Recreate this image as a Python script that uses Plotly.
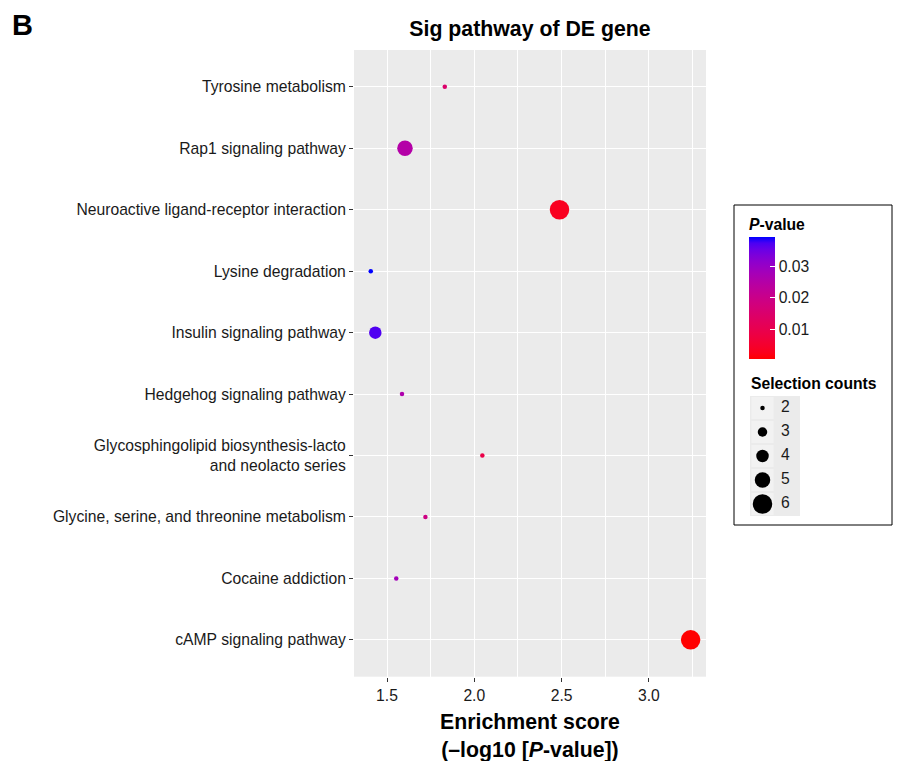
import numpy as np
import plotly.graph_objects as go

# ---------------- data ----------------
pathways = [
    "Tyrosine metabolism",
    "Rap1 signaling pathway",
    "Neuroactive ligand-receptor interaction",
    "Lysine degradation",
    "Insulin signaling pathway",
    "Hedgehog signaling pathway",
    "Glycosphingolipid biosynthesis-lacto<br>and neolacto series",
    "Glycine, serine, and threonine metabolism",
    "Cocaine addiction",
    "cAMP signaling pathway",
]
enrichment_score = [1.831, 1.603, 2.488, 1.407, 1.433, 1.586, 2.046, 1.720, 1.553, 3.239]
selection_counts = [2, 5, 6, 2, 4, 2, 2, 2, 2, 6]
legend_counts = [2, 3, 4, 5, 6]
colorbar_ticks = [0.01, 0.02, 0.03]
x_ticks = [1.5, 2.0, 2.5, 3.0]

# P-value derived from enrichment score (-log10 P)
p_values = [10 ** (-s) for s in enrichment_score]

# ---------------- style helpers ----------------
OFF = 0              # page body margin removed via post_script
W, H = 899, 761      # figure size
FONT = "Liberation Sans, Arial, sans-serif"
TXT = 15.7
size_px = {2: 4.5, 3: 9.5, 4: 12.5, 5: 15.5, 6: 19.5}


def px_x(p):
    return (p - OFF) / W


def px_y(p):
    return 1 - (p - OFF) / H


def srgb_to_lab(c):
    c = np.array(c, dtype=float) / 255.0
    lin = np.where(c <= 0.04045, c / 12.92, ((c + 0.055) / 1.055) ** 2.4)
    M = np.array([[0.4124, 0.3576, 0.1805],
                  [0.2126, 0.7152, 0.0722],
                  [0.0193, 0.1192, 0.9505]])
    xyz = M @ lin
    wp = np.array([0.95047, 1.0, 1.08883])
    t = xyz / wp
    f = np.where(t > (6 / 29) ** 3, np.cbrt(t), t / (3 * (6 / 29) ** 2) + 4 / 29)
    return np.array([116 * f[1] - 16, 500 * (f[0] - f[1]), 200 * (f[1] - f[2])])


def lab_to_srgb(lab):
    L, a, b = lab
    fy = (L + 16) / 116
    fx = fy + a / 500
    fz = fy - b / 200
    f = np.array([fx, fy, fz])
    t = np.where(f > 6 / 29, f ** 3, 3 * (6 / 29) ** 2 * (f - 4 / 29))
    xyz = t * np.array([0.95047, 1.0, 1.08883])
    Minv = np.array([[3.2406, -1.5372, -0.4986],
                     [-0.9689, 1.8758, 0.0415],
                     [0.0557, -0.2040, 1.0570]])
    lin = Minv @ xyz
    lin = np.clip(lin, 0, 1)
    c = np.where(lin <= 0.0031308, 12.92 * lin, 1.055 * lin ** (1 / 2.4) - 0.055)
    c = np.clip(np.round(c * 255), 0, 255).astype(int)
    return "rgb(%d,%d,%d)" % tuple(c)


lab_lo = srgb_to_lab([255, 0, 0])
lab_hi = srgb_to_lab([0, 0, 255])
colorscale = []
for i in range(21):
    t = i / 20
    colorscale.append([t, lab_to_srgb(lab_lo + (lab_hi - lab_lo) * t)])

fig = go.Figure()

# main dot plot
fig.add_trace(go.Scatter(
    x=enrichment_score, y=pathways, mode="markers",
    marker=dict(
        color=p_values, colorscale=colorscale,
        cmin=min(p_values), cmax=max(p_values),
        size=[size_px[c] for c in selection_counts],
        line=dict(width=0), opacity=1,
        colorbar=dict(
            title=dict(text="<b><i>P</i>-value</b>", side="top",
                       font=dict(family=FONT, size=TXT, color="#000")),
            x=px_x(749), xanchor="left", xpad=0,
            y=px_y(359), yanchor="bottom", ypad=0,
            len=(359 - 215) / H, lenmode="fraction", thickness=26,
            outlinewidth=0,
            tickvals=colorbar_ticks, ticktext=["%.2f" % v for v in colorbar_ticks],
            ticks="inside", ticklen=5, tickcolor="white", tickwidth=1,
            tickfont=dict(family=FONT, size=TXT, color="#1a1a1a"),
        ),
    ),
    showlegend=False, hoverinfo="x+y",
))

# size legend (keys drawn on a hidden helper axis)
fig.add_trace(go.Scatter(
    x=[0] * len(legend_counts), y=legend_counts, mode="markers",
    marker=dict(symbol="square", size=22, color="#F2F2F2", line=dict(width=0)),
    xaxis="x2", yaxis="y2", showlegend=False, hoverinfo="skip", cliponaxis=False,
))
fig.add_trace(go.Scatter(
    x=[0] * len(legend_counts), y=legend_counts, mode="markers",
    marker=dict(color="#000000", opacity=1, size=[size_px[c] for c in legend_counts],
                line=dict(width=0)),
    xaxis="x2", yaxis="y2", showlegend=False, hoverinfo="skip", cliponaxis=False,
))
fig.add_trace(go.Scatter(
    x=[0.74] * len(legend_counts), y=legend_counts, mode="text",
    text=[str(c) for c in legend_counts], textposition="middle right",
    textfont=dict(family=FONT, size=TXT, color="#1a1a1a"),
    xaxis="x2", yaxis="y2", showlegend=False, hoverinfo="skip", cliponaxis=False,
))

fig.update_layout(
    width=W, height=H,
    margin=dict(l=0, r=0, t=0, b=0),
    paper_bgcolor="white",
    plot_bgcolor="#EBEBEB",
    font=dict(family=FONT, color="#1a1a1a"),
    title=dict(text="<b>Sig pathway of DE gene</b>", x=px_x(530), y=px_y(29),
               xanchor="center", yanchor="middle",
               font=dict(family=FONT, size=21.3, color="#000")),
    xaxis=dict(
        domain=[px_x(354), px_x(706)], range=[1.311, 3.327],
        tickvals=x_ticks, ticktext=["%.1f" % v for v in x_ticks],
        ticks="outside", ticklen=4, tickcolor="#333", tickwidth=1,
        tickfont=dict(family=FONT, size=TXT, color="#1a1a1a"),
        showgrid=True, gridcolor="white", gridwidth=1.3,
        minor=dict(tick0=1.25, dtick=0.5, showgrid=True, gridcolor="white", gridwidth=0.6, ticks=""),
        zeroline=False, showline=False, anchor="y",
    ),
    yaxis=dict(
        domain=[px_y(676.7), px_y(50)],
        categoryorder="array", categoryarray=pathways,
        range=[9.6, -0.6],
        ticks="outside", ticklen=4, tickcolor="#333", tickwidth=1,
        tickfont=dict(family=FONT, size=TXT, color="#1a1a1a"),
        showgrid=True, gridcolor="white", gridwidth=1.3,
        zeroline=False, showline=False, anchor="x",
    ),
    xaxis2=dict(domain=[px_x(750), px_x(800)], range=[-0.5, 1.5], visible=False,
                anchor="y2", fixedrange=True),
    yaxis2=dict(domain=[px_y(516), px_y(396)], range=[6.5, 1.5], visible=False,
                anchor="x2", fixedrange=True),
    shapes=[dict(type="rect", xref="paper", yref="paper",
                 x0=px_x(734), x1=px_x(892), y0=px_y(525), y1=px_y(205),
                 line=dict(color="black", width=1), fillcolor="rgba(0,0,0,0)", layer="below")],
    annotations=[
        dict(text="<b>B</b>", x=px_x(10), y=px_y(25), xref="paper", yref="paper",
             xanchor="left", yanchor="middle", showarrow=False,
             font=dict(family=FONT, size=29, color="#000")),
        dict(text="<b>Enrichment score<br>(–log10 [<i>P</i>-value])</b>",
             x=px_x(530), y=px_y(708), xref="paper", yref="paper",
             xanchor="center", yanchor="top", showarrow=False, align="center",
             font=dict(family=FONT, size=21.3, color="#000")),
        dict(text="<b>Selection counts</b>", x=px_x(749), y=px_y(383),
             xref="paper", yref="paper", xanchor="left", yanchor="middle",
             showarrow=False, font=dict(family=FONT, size=TXT, color="#000")),
    ],
)

fig.write_html(
    "out.html",
    config={"displayModeBar": False},
    post_script="document.body.style.margin='0';document.body.style.overflow='hidden';",
)
